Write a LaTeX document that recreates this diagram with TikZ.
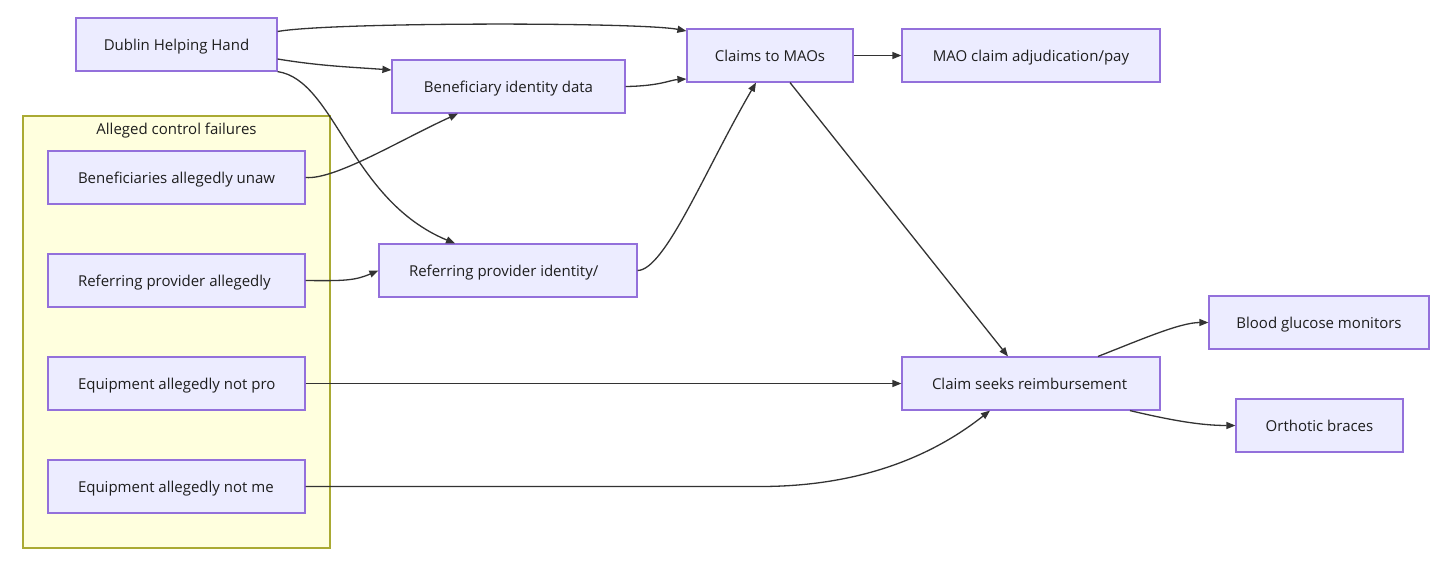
\documentclass[tikz,border=0pt]{standalone}
\usepackage{fontspec}
\setmainfont{Open Sans}
\usetikzlibrary{arrows.meta}
\definecolor{nodefill}{HTML}{ECECFF}
\definecolor{nodeline}{HTML}{9370DB}
\definecolor{clusterfill}{HTML}{FFFFDE}
\definecolor{clusterline}{HTML}{AAAA33}
\definecolor{edgecol}{HTML}{333333}
\definecolor{txtcol}{HTML}{1E1E1E}
\tikzset{
  lbl/.style={text=txtcol, font=\fontsize{15}{17}\selectfont, text height=13pt, text depth=2pt},
  box/.style={lbl, draw=nodeline, fill=nodefill, line width=1.2pt, minimum height=53pt,
    inner sep=0pt},
  truncbox/.style={box, minimum width=257pt},
  cluster/.style={draw=clusterline, fill=clusterfill, line width=1.2pt},
  edge/.style={draw=edgecol, line width=1.3pt, -{Triangle[length=9pt,width=7pt]}},
}
\newcommand{\tl}[1]{\makebox[197pt][l]{#1}}
\begin{document}
\begin{tikzpicture}[x=1pt,y=-1pt]
\useasboundingbox (0,0) rectangle (1456,579);
\fill[white] (0,0) rectangle (1456,579);
% cluster
\draw[cluster] (23,116) rectangle (330,548);
\node[lbl, inner sep=0pt] (ctitle) at (176.5,128.5) {Alleged control failures};
% nodes
\node[box, minimum width=201pt] (dhh) at (176.5,44.5) {Dublin Helping Hand};
\node[box, minimum width=233pt] (bid) at (508.5,86.5) {Beneficiary identity data};
\node[box, minimum width=166pt] (cm) at (770,55.5) {Claims to MAOs};
\node[box, minimum width=258pt] (mao) at (1031,55.5) {MAO claim adjudication/pay};
\node[truncbox] (bu) at (176.5,177.5) {\tl{Beneficiaries allegedly unaw}};
\node[truncbox] (rpa) at (176.5,280.5) {\tl{Referring provider allegedly}};
\node[truncbox] (epro) at (176.5,383.5) {\tl{Equipment allegedly not pro}};
\node[truncbox] (emed) at (176.5,486.5) {\tl{Equipment allegedly not me}};
\node[box, minimum width=258pt] (rpi) at (508,270.5) {\makebox[198pt][l]{Referring provider identity/}};
\node[box, minimum width=258pt] (cs) at (1031,383.5) {\makebox[198pt][l]{Claim seeks reimbursement}};
\node[box, minimum width=220pt] (bgm) at (1319,322.5) {Blood glucose monitors};
\node[box, minimum width=167pt] (ob) at (1319.5,425.5) {Orthotic braces};
% edges
\draw[edge] ([yshift=13pt]dhh.east) .. controls (330,22) and (640,22) .. ([yshift=24.5pt]cm.west);
\draw[edge] ([yshift=-14.5pt]dhh.east) .. controls (320,66) and (350,67) .. ([yshift=16.5pt]bid.west);
\draw[edge] (dhh.south east) .. controls (335,80) and (350,200) .. ([xshift=-53pt]rpi.north);
\draw[edge] (bid.east) .. controls (660,86) and (670,80) .. ([yshift=-23.5pt]cm.west);
\draw[edge] (bu.east) .. controls (335,180) and (400,140) .. ([xshift=-50.5pt]bid.south);
\draw[edge] (rpa.east) .. controls (345,281) and (355,280.5) .. (rpi.west);
\draw[edge] (rpi.east) .. controls (665,270) and (705,170) .. ([xshift=-14pt]cm.south);
\draw[edge] (cm.east) -- (mao.west);
\draw[edge] ([xshift=20pt]cm.south) -- ([xshift=-23pt]cs.north);
\draw[edge] (epro.east) -- (cs.west);
\draw[edge] (emed.east) -- (760,486.5) .. controls (870,486.5) and (940,450) .. ([xshift=-41pt]cs.south);
\draw[edge] ([xshift=67pt]cs.north) .. controls (1140,340) and (1180,322.5) .. (bgm.west);
\draw[edge] ([xshift=99pt]cs.south) .. controls (1170,420) and (1200,425.5) .. (ob.west);
\end{tikzpicture}
\end{document}
